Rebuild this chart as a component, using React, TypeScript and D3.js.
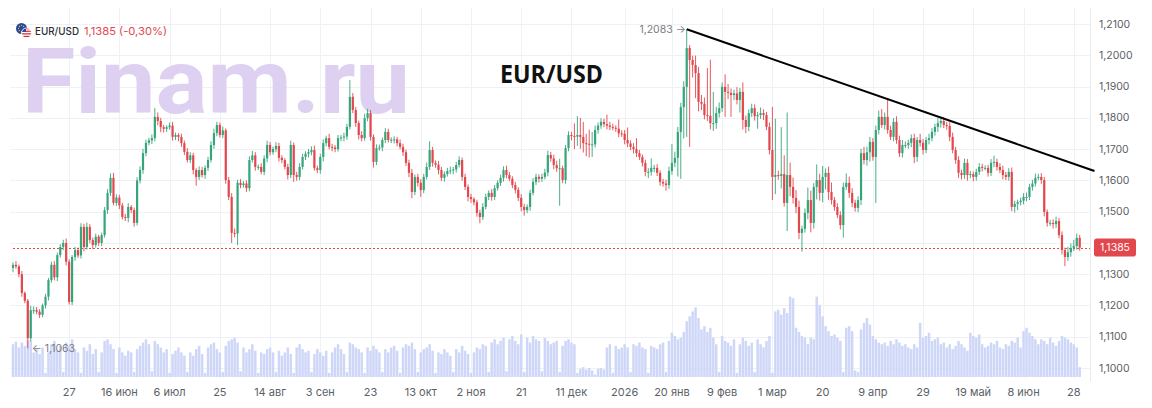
import React, { useEffect, useRef } from 'react';
import * as d3 from 'd3';

const W = 1152;
const H = 408;

// bars run Mon..Fri + Sun, starting Monday 5 May 2025
const START_DATE = '2025-05-05';
const FIRST_OPEN = 11320;

// daily closes in pips (price * 10000), one row = one week
const closes = [
  11330, 11325, 11300, 11240, 11215, 11095,
  11185, 11185, 11180, 11170, 11200, 11228,
  11281, 11330, 11290, 11361, 11387, 11400,
  11340, 11211, 11355, 11377, 11360, 11451,
  11387, 11451, 11409, 11393, 11420, 11400,
  11425, 11505, 11560, 11608, 11528, 11545,
  11520, 11483, 11480, 11515, 11505, 11464,
  11600, 11633, 11687, 11720, 11728, 11735,
  11803, 11790, 11770, 11765, 11770, 11775,
  11739, 11745, 11739, 11719, 11691, 11665,
  11680, 11633, 11611, 11633, 11617, 11640,
  11665, 11713, 11751, 11777, 11745, 11760,
  11601, 11547, 11432, 11430, 11592, 11585,
  11590, 11575, 11665, 11680, 11643, 11643,
  11627, 11670, 11713, 11690, 11700, 11710,
  11672, 11665, 11643, 11617, 11713, 11617,
  11611, 11643, 11675, 11685, 11690, 11697,
  11639, 11633, 11675, 11719, 11735, 11707,
  11705, 11700, 11735, 11737, 11740, 11771,
  11867, 11825, 11783, 11745, 11735, 11799,
  11815, 11739, 11659, 11703, 11705, 11729,
  11755, 11729, 11730, 11731, 11719, 11707,
  11690, 11656, 11624, 11563, 11611, 11592,
  11569, 11611, 11643, 11697, 11656, 11650,
  11633, 11608, 11620, 11630, 11632, 11635,
  11649, 11665, 11611, 11579, 11547, 11540,
  11530, 11496, 11483, 11515, 11547, 11560,
  11547, 11575, 11592, 11608, 11633, 11617,
  11605, 11585, 11570, 11544, 11515, 11505,
  11515, 11560, 11595, 11611, 11605, 11611,
  11625, 11681, 11670, 11649, 11639, 11639,
  11601, 11703, 11745, 11742, 11740, 11745,
  11739, 11719, 11717, 11715, 11715, 11761,
  11775, 11787, 11780, 11775, 11771, 11768,
  11765, 11750, 11749, 11729, 11718, 11707,
  11700, 11687, 11675, 11656, 11627, 11627,
  11640, 11640, 11624, 11595, 11590, 11585,
  11630, 11656, 11672, 11755, 11834, 11899,
  12023, 11985, 11969, 11943, 11851, 11845,
  11809, 11806, 11783, 11783, 11815, 11831,
  11899, 11883, 11880, 11873, 11878, 11857,
  11883, 11793, 11771, 11815, 11831, 11805,
  11809, 11815, 11809, 11771, 11697, 11611,
  11617, 11614, 11620, 11528, 11617, 11579,
  11544, 11515, 11432, 11445, 11496, 11537,
  11464, 11579, 11601, 11560, 11611, 11624,
  11563, 11537, 11515, 11489, 11457, 11579,
  11592, 11560, 11528, 11512, 11537, 11687,
  11665, 11690, 11723, 11675, 11761, 11803,
  11777, 11803, 11761, 11739, 11787, 11729,
  11687, 11713, 11713, 11720, 11735, 11675,
  11729, 11720, 11697, 11729, 11735, 11755,
  11771, 11783, 11790, 11777, 11774, 11739,
  11697, 11665, 11624, 11617, 11656, 11617,
  11620, 11611, 11627, 11643, 11640, 11640,
  11624, 11656, 11659, 11643, 11633, 11617,
  11611, 11627, 11515, 11525, 11530, 11535,
  11547, 11547, 11579, 11590, 11608, 11611,
  11601, 11499, 11464, 11464, 11460, 11470,
  11425, 11377, 11355, 11370, 11384, 11390,
  11416, 11385,
];

// upper shadow above the body, pips
const wickUp = [
  8, 12, 6, 10, 5, 6, 14, 12, 10, 8,
  6, 9, 7, 10, 12, 8, 9, 10, 14, 8,
  6, 10, 8, 12, 10, 14, 9, 8, 10, 6,
  8, 10, 12, 14, 16, 10, 9, 8, 10, 12,
  6, 8, 10, 12, 14, 10, 8, 12, 28, 14,
  10, 8, 6, 10, 12, 8, 6, 10, 8, 12,
  10, 8, 6, 12, 10, 8, 10, 12, 14, 10,
  8, 12, 6, 10, 12, 14, 10, 12, 8, 10,
  12, 14, 10, 8, 12, 10, 14, 10, 8, 12,
  10, 8, 6, 10, 14, 8, 10, 12, 10, 8,
  10, 12, 14, 8, 10, 12, 8, 14, 10, 8,
  10, 8, 12, 10, 54, 12, 10, 8, 12, 14,
  14, 10, 8, 12, 10, 8, 12, 10, 8, 10,
  8, 12, 10, 8, 10, 12, 8, 10, 12, 10,
  14, 28, 10, 8, 12, 10, 8, 10, 12, 8,
  10, 12, 8, 10, 8, 10, 6, 8, 10, 12,
  10, 8, 12, 10, 8, 10, 12, 14, 10, 8,
  10, 8, 12, 10, 8, 10, 12, 10, 8, 10,
  12, 14, 10, 12, 14, 30, 8, 10, 12, 10,
  40, 60, 55, 48, 30, 45, 40, 14, 10, 12,
  10, 30, 12, 10, 8, 30, 10, 12, 40, 10,
  12, 35, 10, 8, 10, 12, 30, 10, 12, 8,
  10, 12, 14, 60, 20, 16, 14, 18, 60, 10,
  14, 30, 20, 22, 20, 150, 180, 100, 20, 18,
  14, 40, 25, 14, 12, 20, 12, 30, 14, 12,
  14, 12, 10, 18, 12, 10, 14, 138, 180, 14,
  150, 60, 200, 40, 30, 25, 20, 10, 14, 40,
  30, 12, 50, 20, 35, 14, 20, 30, 10, 12,
  12, 14, 30, 20, 15, 10, 12, 14, 20, 18,
  16, 12, 14, 20, 25, 14, 54, 14, 12, 18,
  14, 16, 12, 10, 12, 14, 10, 20, 12, 10,
  14, 12, 10, 16, 14, 12, 10, 12, 14, 10,
  12, 10, 14, 12, 10, 8, 10, 12, 10, 8,
  10, 12, 20, 10, 12, 14, 10, 12, 14, 10,
  8, 10, 12, 14, 10, 12, 14, 10, 12, 10,
  8, 10, 12, 14, 10, 12, 8, 18, 14, 20,
  14, 10,
];

// lower shadow below the body, pips
const wickDown = [
  14, 8, 10, 12, 8, 32, 10, 12, 8, 10,
  8, 10, 12, 8, 10, 12, 8, 10, 12, 8,
  10, 12, 8, 10, 14, 8, 10, 12, 8, 10,
  10, 8, 12, 10, 8, 10, 12, 8, 10, 14,
  10, 12, 8, 10, 12, 10, 8, 12, 10, 14,
  16, 12, 10, 8, 12, 10, 14, 12, 10, 8,
  10, 14, 28, 10, 8, 12, 10, 8, 12, 10,
  8, 10, 12, 10, 32, 12, 37, 10, 8, 12,
  10, 8, 12, 10, 8, 10, 12, 10, 8, 10,
  12, 10, 8, 14, 10, 22, 12, 10, 8, 10,
  12, 10, 8, 10, 12, 14, 10, 8, 12, 10,
  8, 10, 12, 10, 8, 10, 12, 14, 10, 8,
  10, 12, 18, 10, 8, 12, 10, 8, 10, 12,
  10, 8, 12, 10, 14, 20, 10, 12, 22, 10,
  8, 10, 12, 10, 14, 10, 12, 8, 10, 12,
  10, 8, 12, 10, 14, 12, 10, 12, 20, 10,
  8, 10, 12, 10, 8, 10, 12, 10, 8, 10,
  12, 10, 14, 18, 10, 12, 8, 10, 12, 10,
  8, 12, 10, 14, 12, 120, 10, 12, 10, 14,
  40, 30, 38, 30, 40, 42, 40, 10, 12, 10,
  10, 12, 10, 8, 10, 12, 10, 14, 12, 10,
  14, 12, 10, 12, 14, 20, 12, 14, 10, 12,
  10, 18, 12, 12, 14, 60, 150, 100, 160, 278,
  40, 80, 30, 20, 14, 16, 20, 25, 18, 14,
  12, 80, 20, 70, 16, 14, 40, 30, 20, 14,
  12, 14, 40, 12, 16, 10, 14, 74, 55, 12,
  40, 12, 90, 30, 18, 20, 20, 60, 12, 20,
  30, 18, 40, 25, 30, 40, 25, 14, 12, 10,
  14, 40, 10, 16, 14, 12, 14, 16, 14, 18,
  30, 12, 147, 14, 10, 14, 12, 10, 14, 12,
  12, 14, 10, 12, 14, 20, 16, 12, 14, 10,
  14, 10, 12, 16, 14, 10, 12, 14, 10, 12,
  16, 14, 12, 18, 10, 14, 12, 10, 12, 8,
  12, 10, 14, 12, 10, 14, 10, 12, 14, 18,
  20, 10, 12, 14, 10, 12, 10, 8, 12, 14,
  12, 10, 14, 12, 10, 14, 29, 12, 14, 10,
  12, 10,
];

// volume, relative units (100 = tallest bar)
const volumes = [
  40, 43, 36, 42, 38, 45,
  44, 30, 34, 28, 36, 5,
  30, 40, 44, 32, 38, 6,
  42, 38, 46, 34, 30, 5,
  36, 32, 40, 28, 34, 6,
  30, 44, 46, 40, 34, 5,
  36, 30, 26, 32, 30, 6,
  34, 38, 42, 46, 40, 7,
  44, 40, 36, 30, 34, 5,
  28, 32, 36, 30, 26, 6,
  30, 26, 34, 38, 28, 5,
  36, 40, 42, 34, 30, 6,
  38, 44, 46, 48, 42, 7,
  36, 30, 34, 40, 32, 5,
  30, 28, 34, 36, 30, 6,
  32, 26, 30, 36, 28, 5,
  36, 40, 34, 30, 32, 6,
  28, 34, 30, 26, 32, 5,
  30, 36, 40, 34, 28, 6,
  42, 40, 36, 34, 30, 5,
  36, 32, 38, 34, 30, 6,
  34, 30, 36, 38, 32, 5,
  36, 40, 38, 42, 34, 6,
  30, 34, 36, 40, 32, 5,
  30, 28, 34, 30, 26, 6,
  34, 30, 38, 32, 28, 5,
  30, 36, 34, 40, 38, 6,
  42, 46, 40, 44, 48, 7,
  46, 50, 44, 40, 52, 6,
  48, 42, 50, 46, 44, 7,
  48, 44, 40, 42, 44, 6,
  38, 44, 46, 42, 40, 5,
  10, 12, 9, 11, 8, 3,
  10, 11, 9, 36, 40, 5,
  38, 34, 36, 40, 36, 6,
  40, 38, 42, 36, 34, 5,
  38, 36, 34, 40, 42, 6,
  44, 54, 50, 46, 48, 55,
  68, 74, 80, 85, 72, 58,
  62, 55, 60, 48, 40, 6,
  50, 44, 42, 38, 46, 5,
  40, 48, 44, 38, 42, 6,
  46, 40, 36, 44, 50, 5,
  80, 82, 76, 84, 78, 98,
  96, 60, 55, 50, 48, 40,
  48, 46, 98, 88, 74, 62,
  56, 50, 52, 48, 44, 6,
  60, 62, 56, 8, 6, 58,
  66, 72, 64, 50, 46, 42,
  40, 42, 38, 44, 40, 46,
  42, 38, 40, 36, 34, 40,
  36, 66, 48, 50, 54, 44,
  46, 48, 40, 42, 36, 40,
  34, 38, 44, 40, 36, 32,
  54, 50, 48, 52, 40, 36,
  38, 42, 40, 44, 36, 34,
  40, 38, 44, 42, 48, 36,
  56, 60, 54, 50, 46, 40,
  46, 44, 40, 48, 42, 38,
  44, 50, 48, 46, 42, 40,
  36, 12,
];

const tickDates = [
  '2025-05-27', '2025-06-16', '2025-07-06', '2025-07-25', '2025-08-14',
  '2025-09-03', '2025-09-23', '2025-10-13', '2025-11-02', '2025-11-21',
  '2025-12-11', '2026-01-01', '2026-01-20', '2026-02-09', '2026-03-01',
  '2026-03-20', '2026-04-09', '2026-04-29', '2026-05-19', '2026-06-08',
  '2026-06-28',
];
const tickLabels = [
  '27', '16 июн', '6 июл', '25', '14 авг',
  '3 сен', '23', '13 окт', '2 ноя', '21',
  '11 дек', '2026', '20 янв', '9 фев', '1 мар',
  '20', '9 апр', '29', '19 май', '8 июн',
  '28',
];

const priceTicks = [1.10, 1.11, 1.12, 1.13, 1.14, 1.15, 1.16, 1.17, 1.18, 1.19, 1.20, 1.21];

const symbol = 'EUR/USD';
const lastPrice = 1.1385;
const lastChange = '(-0,30%)';
const highMark = { index: 228, price: 1.2083 };
const lowMark = { index: 5, price: 1.1063 };
const trendFrom = { index: 228, price: 1.2083 };
const trendTo = { index: 366, price: 1.1630 };

const UP = '#35a57a';
const DOWN = '#e2474d';
const VOL = '#cfd7f8';
const GRID = '#f0f1f4';
const AXIS_TEXT = '#5c5f66';
const FONT = 'Inter, Roboto, "DejaVu Sans", sans-serif';

const fmt = (v: number) => v.toFixed(4).replace('.', ',');

// bar index of a calendar date (Saturdays have no bar)
const barIndex = (iso: string) => {
  const d = Math.round((Date.parse(iso) - Date.parse(START_DATE)) / 86400000);
  const dow = d % 7;
  return Math.floor(d / 7) * 6 + (dow === 6 ? 5 : dow);
};

export default function App() {
  const svgRef = useRef<SVGSVGElement>(null);

  useEffect(() => {
    if (!svgRef.current) return;
    const svg = d3.select(svgRef.current);
    svg.selectAll('*').remove();

    const plotLeft = 10;
    const plotRight = 1090;
    const plotTop = 8;
    const plotBottom = 378;

    const x = d3.scaleLinear().domain([0, closes.length - 1]).range([13, 1079.7]);
    const y = d3.scaleLinear().domain([1.10, 1.21]).range([368, 24]);
    const yVol = d3.scaleLinear().domain([0, 100]).range([377, 295]);

    const bars = closes.map((c, i) => {
      const o = i === 0 ? FIRST_OPEN : closes[i - 1];
      return {
        i,
        open: o / 1e4,
        close: c / 1e4,
        high: (Math.max(o, c) + wickUp[i]) / 1e4,
        low: (Math.min(o, c) - wickDown[i]) / 1e4,
        vol: volumes[i],
      };
    });

    // Grid
    const grid = svg.append('g');
    grid.selectAll('line.h')
      .data(priceTicks)
      .join('line')
      .attr('x1', plotLeft)
      .attr('x2', plotRight)
      .attr('y1', d => Math.round(y(d)) + 0.5)
      .attr('y2', d => Math.round(y(d)) + 0.5)
      .attr('stroke', GRID);
    grid.selectAll('line.v')
      .data(tickDates)
      .join('line')
      .attr('x1', d => Math.round(x(barIndex(d))) + 0.5)
      .attr('x2', d => Math.round(x(barIndex(d))) + 0.5)
      .attr('y1', plotTop)
      .attr('y2', plotBottom)
      .attr('stroke', GRID);
    svg.append('line')
      .attr('x1', plotRight + 0.5)
      .attr('x2', plotRight + 0.5)
      .attr('y1', plotTop)
      .attr('y2', plotBottom + 4)
      .attr('stroke', '#e8eaee');

    // Watermark
    svg.append('text')
      .attr('x', 22)
      .attr('y', 113)
      .attr('font-family', 'Roboto, "Open Sans", sans-serif')
      .attr('font-weight', 700)
      .attr('font-size', 90)
      .attr('textLength', 388)
      .attr('lengthAdjust', 'spacingAndGlyphs')
      .attr('fill', '#ddd0f1')
      .text('Finam.ru');

    // Volume
    svg.append('g')
      .selectAll('rect')
      .data(bars)
      .join('rect')
      .attr('x', d => x(d.i) - 1.25)
      .attr('width', 2.5)
      .attr('y', d => yVol(d.vol))
      .attr('height', d => yVol(0) - yVol(d.vol))
      .attr('fill', VOL);

    // Last price line
    const lastY = Math.round(y(lastPrice)) + 0.5;
    svg.append('line')
      .attr('x1', 13)
      .attr('x2', plotRight)
      .attr('y1', lastY)
      .attr('y2', lastY)
      .attr('stroke', DOWN)
      .attr('stroke-width', 1)
      .attr('stroke-dasharray', '2,2');

    // Candles
    const candles = svg.append('g');
    candles.selectAll('line')
      .data(bars)
      .join('line')
      .attr('x1', d => x(d.i))
      .attr('x2', d => x(d.i))
      .attr('y1', d => y(d.high))
      .attr('y2', d => y(d.low))
      .attr('stroke', d => (d.close >= d.open ? UP : DOWN))
      .attr('stroke-width', 0.9);
    candles.selectAll('rect')
      .data(bars)
      .join('rect')
      .attr('x', d => x(d.i) - 1.1)
      .attr('width', 2.2)
      .attr('y', d => y(Math.max(d.open, d.close)))
      .attr('height', d => Math.max(1, Math.abs(y(d.open) - y(d.close))))
      .attr('fill', d => (d.close >= d.open ? UP : DOWN));

    // Trend line
    svg.append('line')
      .attr('x1', x(trendFrom.index))
      .attr('y1', y(trendFrom.price))
      .attr('x2', x(trendTo.index))
      .attr('y2', y(trendTo.price))
      .attr('stroke', '#000')
      .attr('stroke-width', 2);

    // High / low markers
    svg.append('text')
      .attr('x', x(highMark.index) - 1)
      .attr('y', y(highMark.price) + 4)
      .attr('text-anchor', 'end')
      .attr('font-family', FONT)
      .attr('font-size', 10.5)
      .attr('fill', '#7a7d85')
      .text(`${fmt(highMark.price)} →`);
    svg.append('text')
      .attr('x', x(lowMark.index) + 4)
      .attr('y', y(lowMark.price) + 4)
      .attr('font-family', FONT)
      .attr('font-size', 10.5)
      .attr('fill', '#7a7d85')
      .text(`← ${fmt(lowMark.price)}`);

    // Right axis
    svg.append('g')
      .selectAll('text')
      .data(priceTicks.filter(p => Math.abs(y(p) - y(lastPrice)) > 12))
      .join('text')
      .attr('x', 1099)
      .attr('y', d => y(d))
      .attr('dy', '0.35em')
      .attr('font-family', FONT)
      .attr('font-size', 10.5)
      .attr('fill', AXIS_TEXT)
      .text(d => fmt(d));

    // Last price tag
    svg.append('rect')
      .attr('x', 1094)
      .attr('y', y(lastPrice) - 9)
      .attr('width', 42)
      .attr('height', 18)
      .attr('rx', 3)
      .attr('fill', DOWN);
    svg.append('text')
      .attr('x', 1115)
      .attr('y', y(lastPrice))
      .attr('dy', '0.35em')
      .attr('text-anchor', 'middle')
      .attr('font-family', FONT)
      .attr('font-size', 10.5)
      .attr('fill', '#fff')
      .text(fmt(lastPrice));

    // Bottom axis
    svg.append('g')
      .selectAll('text')
      .data(tickDates)
      .join('text')
      .attr('x', d => x(barIndex(d)))
      .attr('y', 396)
      .attr('text-anchor', 'middle')
      .attr('font-family', FONT)
      .attr('font-size', 11)
      .attr('fill', AXIS_TEXT)
      .text((d, i) => tickLabels[i]);

    // Legend with flag icon
    const defs = svg.append('defs');
    defs.append('clipPath').attr('id', 'us-clip')
      .append('circle').attr('cx', 26.5).attr('cy', 33).attr('r', 5);
    svg.append('circle').attr('cx', 21.5).attr('cy', 28.5).attr('r', 5.5).attr('fill', '#2d4a9a');
    d3.range(8).forEach(k => {
      const a = (k / 8) * Math.PI * 2;
      svg.append('circle')
        .attr('cx', 21.5 + Math.cos(a) * 3)
        .attr('cy', 28.5 + Math.sin(a) * 3)
        .attr('r', 0.55)
        .attr('fill', '#f5d34a');
    });
    const us = svg.append('g').attr('clip-path', 'url(#us-clip)');
    us.append('rect').attr('x', 21).attr('y', 27.5).attr('width', 11).attr('height', 11).attr('fill', '#fff');
    d3.range(4).forEach(k => {
      us.append('rect')
        .attr('x', 21).attr('y', 28 + k * 2.6)
        .attr('width', 11).attr('height', 1.3)
        .attr('fill', '#d6333d');
    });
    us.append('rect').attr('x', 21).attr('y', 27.5).attr('width', 5).attr('height', 4.5).attr('fill', '#2d4a9a');
    svg.append('circle').attr('cx', 26.5).attr('cy', 33).attr('r', 5)
      .attr('fill', 'none').attr('stroke', '#fff').attr('stroke-width', 0.8);

    svg.append('text')
      .attr('x', 35)
      .attr('y', 35)
      .attr('font-family', FONT)
      .attr('font-size', 10.5)
      .attr('font-weight', 500)
      .attr('textLength', 44)
      .attr('lengthAdjust', 'spacingAndGlyphs')
      .attr('fill', '#2b2e35')
      .text(symbol);
    svg.append('text')
      .attr('x', 84)
      .attr('y', 35)
      .attr('font-family', FONT)
      .attr('font-size', 11)
      .attr('textLength', 83)
      .attr('lengthAdjust', 'spacingAndGlyphs')
      .attr('fill', DOWN)
      .text(`${fmt(lastPrice)} ${lastChange}`);

    // Title
    svg.append('text')
      .attr('x', 500)
      .attr('y', 83)
      .attr('font-family', '"Open Sans", "DejaVu Sans", sans-serif')
      .attr('font-weight', 700)
      .attr('font-size', 25)
      .attr('textLength', 103)
      .attr('lengthAdjust', 'spacingAndGlyphs')
      .attr('fill', '#111')
      .text(symbol);
  }, []);

  return (
    <svg
      ref={svgRef}
      width={W}
      height={H}
      style={{ position: 'absolute', left: 0, top: 0, background: '#fff' }}
    />
  );
}
